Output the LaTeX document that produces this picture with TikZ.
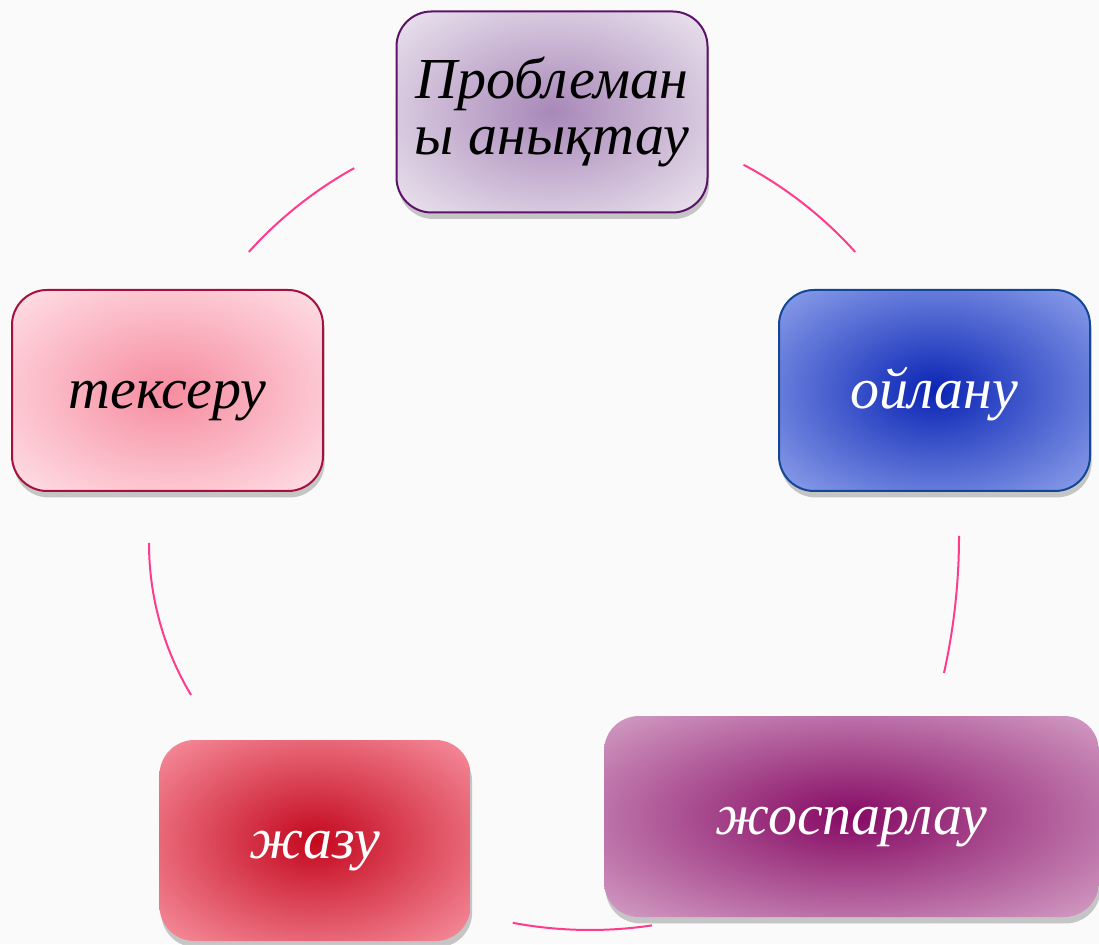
\documentclass[tikz,border=0pt]{standalone}
\usepackage{fontspec}
\setmainfont{Liberation Serif}
\usepackage{tikz}
\definecolor{Prb}{RGB}{168,136,184}
\definecolor{Prb1}{RGB}{237,230,240}
\definecolor{Prb2}{RGB}{92,20,104}
\definecolor{Oil}{RGB}{10,36,180}
\definecolor{Oil1}{RGB}{143,163,236}
\definecolor{Oil2}{RGB}{20,70,150}
\definecolor{Jsp}{RGB}{134,10,100}
\definecolor{Jsp1}{RGB}{212,160,198}
\definecolor{Jaz}{RGB}{196,8,30}
\definecolor{Jaz1}{RGB}{248,146,160}
\definecolor{Tks}{RGB}{246,140,160}
\definecolor{Tks1}{RGB}{255,226,232}
\definecolor{Tks2}{RGB}{164,16,64}
\definecolor{Cyc}{RGB}{255,60,140}
\colorlet{shin}{white}
\colorlet{shout}{white}
\usetikzlibrary{shadows}
\pgfdeclareradialshading[shin,shout]{stageshade}{\pgfpoint{0bp}{0bp}}%
    {color(0bp)=(shin); color(36bp)=(shout); color(50bp)=(shout)}

\begin{document}
\begin{tikzpicture}
    \tikzset{stagebox/.style={rounded corners=0.7cm, minimum width=6.22cm,
                    minimum height=4.02cm, align=center, shading=stageshade,
                    font=\fontsize{33}{32}\selectfont\itshape,
                    drop shadow={shadow xshift=0.2ex, shadow yshift=-0.8ex,
                    opacity=0.3, fill=black!70}},
             oneline/.style={text height=0.72cm, text depth=0pt},
             shin/.code={\colorlet{shin}{#1}},
             shout/.code={\colorlet{shout}{#1}},
             cycarc/.style={draw=Cyc, line width=0.4mm}}
    \useasboundingbox (0,0) rectangle (21.98,18.88);
    \fill [gray!4] (0,0) rectangle (21.98,18.88);
    % the five steps
    \node [stagebox, shin=Prb, shout=Prb1, draw=Prb2, line width=0.4mm]
            (prob) at (11.04,16.64) {\color{black} Проблеман\\ы анықтау};
    \node [stagebox, oneline, shin=Oil, shout=Oil1, draw=Oil2, line width=0.4mm]
            (oil) at (18.69,11.07) {\color{white} ойлану};
    \node [stagebox, oneline, shin=Jsp, shout=Jsp1, minimum width=9.9cm]
            (josp) at (17.03,2.55) {\color{white} жоспарлау};
    \node [stagebox, oneline, shin=Jaz, shout=Jaz1]
            (jazu) at (6.3,2.07) {\color{white} жазу};
    \node [stagebox, oneline, shin=Tks, shout=Tks1, draw=Tks2, line width=0.4mm]
            (tekseru) at (3.35,11.07) {\color{black} тексеру};
    % arcs of the cycle
    \coordinate (s1) at ([shift={(11.04,8.38)}]62:8.16);
    \coordinate (s2) at ([shift={(6.52,8.16)}]0:12.66);
    \coordinate (s3) at ([shift={(11.8,8.68)}]-81.5:8.4);
    \coordinate (s4) at ([shift={(8.9,8.02)}]210.9:5.92);
    \coordinate (s5) at ([shift={(11.04,8.38)}]138:8.16);
    \draw [cycarc] (s1) arc [start angle=62, end angle=42, radius=8.16];
    \draw [cycarc] (s2) arc [start angle=0, end angle=-12.5, radius=12.66];
    \draw [cycarc] (s3) arc [start angle=-81.5, end angle=-100.6, radius=8.4];
    \draw [cycarc] (s4) arc [start angle=210.9, end angle=180, radius=5.92];
    \draw [cycarc] (s5) arc [start angle=138, end angle=119, radius=8.16];
\end{tikzpicture}
\end{document}
